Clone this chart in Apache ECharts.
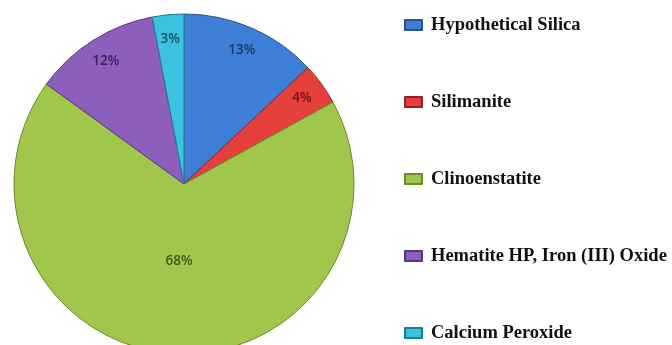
<!DOCTYPE html>
<html>
<head>
<meta charset="utf-8">
<script src="https://cdn.jsdelivr.net/npm/echarts@6/dist/echarts.min.js"></script>
<style>
  html, body { margin: 0; padding: 0; background: #ffffff; }
  #chart { width: 672px; height: 345px; }
</style>
</head>
<body>
<div id="chart"></div>
<script>
// Phase composition (percent)
const phases = ['Hypothetical Silica', 'Silimanite', 'Clinoenstatite', 'Hematite HP, Iron (III) Oxide', 'Calcium Peroxide'];
const shares = [13, 4, 68, 12, 3];

const fills   = ['#3d7fd6', '#e5403c', '#a0c64c', '#8d5fbd', '#3bc2e0'];
const edges   = ['#2a5490', '#8e2522', '#6a8a2a', '#573880', '#227890'];
const inkText = ['#1c3763', '#6e1512', '#3d5a14', '#3a1d5c', '#19505e'];

const CX = 184, CY = 184, R = 170;
const total = shares.reduce((a, b) => a + b, 0);

// mid angle of each slice, clockwise from 12 o'clock (radians)
const midAngles = [];
let acc = 0;
shares.forEach(v => {
  midAngles.push((acc + v / 2) / total * Math.PI * 2);
  acc += v;
});

const chart = echarts.init(document.getElementById('chart'), null, { renderer: 'canvas' });

chart.setOption({
  backgroundColor: '#ffffff',
  animation: false,
  legend: {
    orient: 'vertical',
    left: 399,
    top: 10,
    height: 400,
    itemWidth: 17,
    itemHeight: 10,
    itemGap: 57,
    icon: 'rect',
    selectedMode: false,
    textStyle: {
      fontFamily: 'Liberation Serif',
      fontWeight: 'bold',
      fontSize: 18.5,
      lineHeight: 20,
      color: '#111111',
      padding: [0, 0, 0, 4]
    },
    data: phases
  },
  series: [{
    type: 'pie',
    center: [CX, CY],
    radius: [0, R],
    startAngle: 90,
    clockwise: true,
    silent: true,
    data: phases.map((name, i) => ({
      name: name,
      value: shares[i],
      itemStyle: { color: fills[i], borderColor: edges[i], borderWidth: 1 },
      label: { color: inkText[i] }
    })),
    label: {
      show: true,
      position: 'inside',
      formatter: p => p.value + '%',
      fontFamily: 'Open Sans',
      fontSize: 13.5,
      fontWeight: 600
    },
    labelLine: { show: false },
    // push small-slice labels out toward the rim, keep the large slice's label nearer the centre
    labelLayout: function (params) {
      const i = params.dataIndex;
      const ratio = shares[i] / total > 0.5 ? 0.44 : 0.84;
      const a = midAngles[i];
      const shift = (ratio - 0.5) * R;
      return { dx: Math.sin(a) * shift, dy: -Math.cos(a) * shift };
    }
  }]
});
</script>
</body>
</html>
